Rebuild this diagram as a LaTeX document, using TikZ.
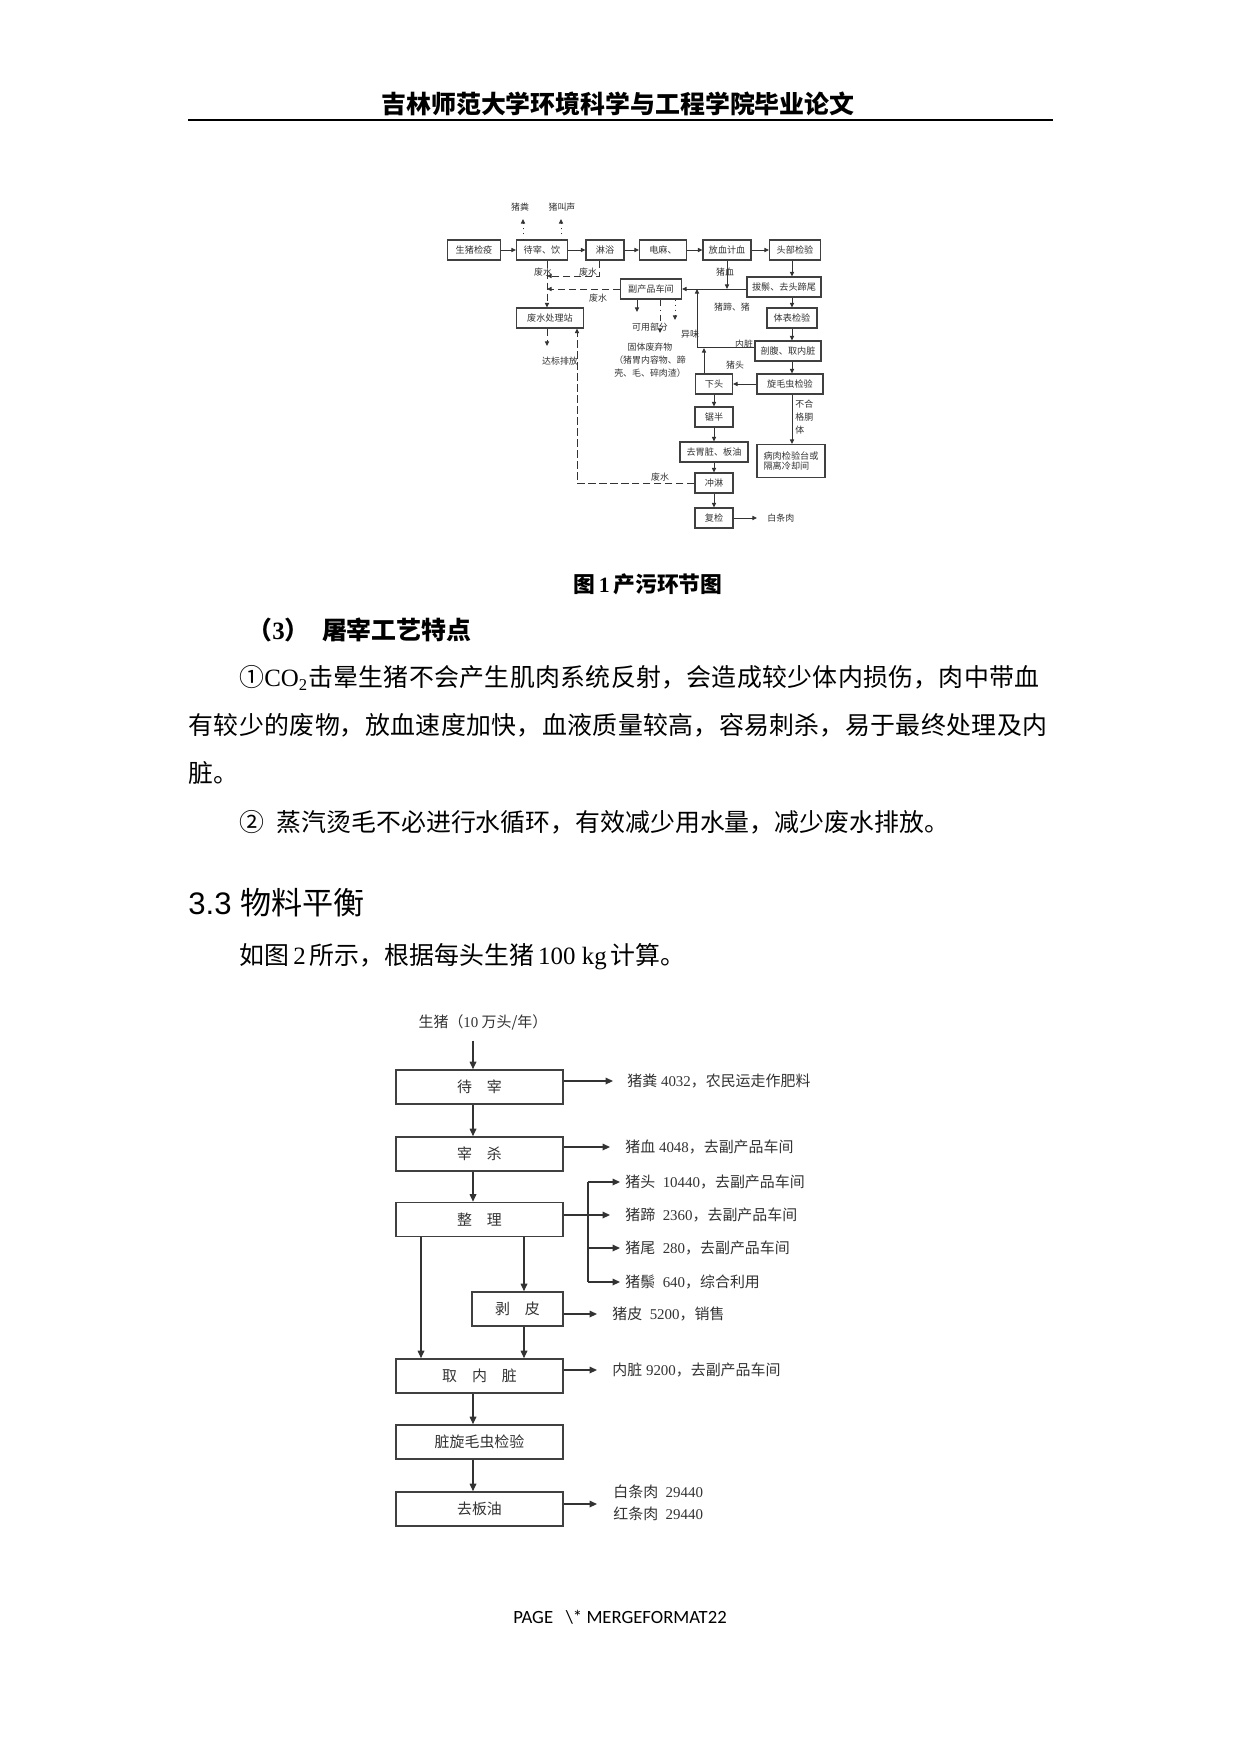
\documentclass[tikz,border=0pt]{standalone}
\usepackage{fontspec}
\setmainfont{Liberation Serif}
\newfontfamily\cjk{Noto Sans CJK SC}
\newfontfamily\lsans{Liberation Sans}
\newfontfamily\carl{Carlito}
\usetikzlibrary{arrows.meta}
\XeTeXlinebreaklocale "zh"
\XeTeXlinebreakskip=0pt plus 1pt
\newlength\pix
\setlength\pix{0.016935cm}
\newcommand\lat[1]{{\rmfamily #1}}
\newcommand\jline[2]{\parbox{#1\pix}{\parfillskip=0pt\relax #2}}
\tikzset{
  sbox/.style={draw=black!75, line width=0.5pt, inner sep=0pt, minimum height=20*\pix,
    font=\cjk\fontsize{4.4pt}{5pt}\selectfont, text=black!80},
  slbl/.style={inner sep=0pt, font=\cjk\fontsize{4.3pt}{6.3pt}\selectfont, text=black!80},
  sarr/.style={-{Triangle[length=2.2pt,width=2pt]}, line width=0.45pt, draw=black!80},
  wdash/.style={dash pattern=on 3.5pt off 1.8pt},
  bbox/.style={draw=black!75, line width=0.8pt, inner sep=0pt, minimum height=34*\pix,
    font=\cjk\fontsize{7.2pt}{8.5pt}\selectfont, text=black!80},
  blbl/.style={anchor=west, inner sep=0pt, font=\cjk\fontsize{7.2pt}{10.5pt}\selectfont, text=black!80},
  barr/.style={-{Triangle[length=3.6pt,width=3.2pt]}, line width=0.6pt, draw=black!80},
  body/.style={anchor=west, inner sep=0pt, font=\cjk\fontsize{12pt}{14pt}\selectfont},
}
\begin{document}
\begin{tikzpicture}[x=0.016935cm, y=-0.016935cm]
        \fill[white] (0,0) rectangle (1240,1754);
        \useasboundingbox (0,0) rectangle (1240,1754);
        \node[body, anchor=center] (hd) at (618,104) {\bfseries 吉林师范大学环境科学与工程学院毕业论文};
        \draw[line width=1pt] (188,120) -- (1053,120);
        % figure 1
        \node[sbox, minimum width=53*\pix] (jy) at (474,250) {生猪检疫};
        \node[sbox, minimum width=51*\pix] (dz) at (542,250) {待宰、饮};
        \node[sbox, minimum width=38*\pix] (ly) at (605,250) {淋浴};
        \node[sbox, minimum width=47*\pix] (dm) at (663,250) {电麻、};
        \node[sbox, minimum width=48*\pix] (fx) at (727,250) {放血计血};
        \node[sbox, minimum width=51*\pix] (tb) at (795,250) {头部检验};
        \node[sbox, minimum width=74*\pix] (bz) at (784,287) {拔鬃、去头蹄尾};
        \node[sbox, minimum width=50*\pix] (tj) at (792,318) {体表检验};
        \node[sbox, minimum width=66*\pix] (pf) at (788,351) {剖腹、取内脏};
        \node[sbox, minimum width=66*\pix] (xm) at (790,384) {旋毛虫检验};
        \node[sbox, minimum width=68*\pix, minimum height=33*\pix, align=left] (br) at (791,461) {病肉检验台或\\隔离冷却间};
        \node[sbox, minimum width=61*\pix] (fc) at (651,289) {副产品车间};
        \node[sbox, minimum width=67*\pix] (fs) at (550,318) {废水处理站};
        \node[sbox, minimum width=37*\pix] (xt) at (714,384) {下头};
        \node[sbox, minimum width=38*\pix] (jb) at (714,417) {锯半};
        \node[sbox, minimum width=68*\pix] (qw) at (714,452) {去胃脏、板油};
        \node[sbox, minimum width=38*\pix] (cl) at (714,483) {冲淋};
        \node[sbox, minimum width=38*\pix] (fj) at (714,518) {复检};
        \coordinate (kx) at (792,0);
        \coordinate (wx) at (547,0);
        \coordinate (lyd) at (599,276);
        \coordinate (db) at (547,346);
        \coordinate (rt) at (577,483);
        \coordinate (fb) at (523,219);
        \coordinate (jsh) at (561,219);
        \coordinate (k1) at (637,312);
        \coordinate (k2) at (660,333);
        \coordinate (k3) at (675,320);
        \coordinate (nz) at (697,347);
        \coordinate (ts) at (704,348);
        \coordinate (btr) at (757,518);
        \draw[sarr] (jy.east) -- (dz.west);
        \draw[sarr] (dz.east) -- (ly.west);
        \draw[sarr] (ly.east) -- (dm.west);
        \draw[sarr] (dm.east) -- (fx.west);
        \draw[sarr] (fx.east) -- (tb.west);
        \draw[sarr] (tb.south -| kx) -- (bz.north -| kx);
        \draw[sarr] (bz.south -| kx) -- (tj.north -| kx);
        \draw[sarr] (tj.south -| kx) -- (pf.north -| kx);
        \draw[sarr] (pf.south -| kx) -- (xm.north -| kx);
        \draw[sarr] (xm.south -| kx) -- (br.north -| kx);
        \draw[sarr] (xm.west) -- (xt.east);
        \draw[sarr] (bz.west |- fc.east) -- (fc.east);
        \draw[sarr] (fx.south) -- (fx.south |- fc.east);
        \draw[line width=0.45pt, black!80] (pf.west |- nz) -- (nz);
        \draw[sarr] (nz) -- (nz |- fc.east);
        \draw[sarr] (xt.north -| ts) -- (ts);
        \draw[sarr] (xt.south) -- (jb.north);
        \draw[sarr] (jb.south) -- (qw.north);
        \draw[sarr] (qw.south) -- (cl.north);
        \draw[sarr] (cl.south) -- (fj.north);
        \draw[sarr] (fj.east) -- (btr);
        \draw[sarr, wdash] (dz.south -| wx) -- (fs.north -| wx);
        \draw[sarr, wdash] (ly.south -| lyd) -- (lyd) -- (wx |- lyd);
        \draw[sarr, wdash] (fc.west) -- (wx |- fc.west);
        \draw[sarr, wdash] (fs.south -| db) -- (db);
        \draw[sarr, wdash] (cl.west) -- (rt) -- (rt |- fs.south);
        \draw[sarr, dotted] (dz.north -| fb) -- (fb);
        \draw[sarr, dotted] (dz.north -| jsh) -- (jsh);
        \draw[sarr] (fc.south -| k1) -- (k1);
        \draw[sarr, dash dot] (fc.south -| k2) -- (k2);
        \draw[sarr, dotted] (fc.south -| k3) -- (k3);
        \node[slbl] (lfb) at (520,207) {猪粪};
        \node[slbl] (ljs) at (562,207) {猪叫声};
        \node[slbl] (lw1) at (543,272) {废水};
        \node[slbl] (lw2) at (588,272) {废水};
        \node[slbl] (lw3) at (598,298) {废水};
        \node[slbl] (ldb) at (560,361) {达标排放};
        \node[slbl] (lky) at (650,327) {可用部分};
        \node[slbl, align=center] (lgt) at (650,360) {固体废弃物\\（猪胃内容物、蹄\\壳、毛、碎肉渣）};
        \node[slbl] (lzx) at (725,272) {猪血};
        \node[slbl] (lzt) at (732,307) {猪蹄、猪};
        \node[slbl] (lyw) at (690,334) {异味};
        \node[slbl] (lnz) at (744,344) {内脏};
        \node[slbl] (lzh) at (735,365) {猪头};
        \node[slbl, align=left, anchor=west] (lbh) at (795,417) {不合\\格胴\\体};
        \node[slbl] (lw4) at (660,477) {废水};
        \node[slbl, anchor=west] (lbt) at (767,518) {白条肉};
        \node[anchor=center, inner sep=0pt, font=\cjk\fontsize{10.5pt}{12pt}\selectfont] (cap) at (648,584) {\bfseries 图\,\lat{\bfseries 1}\,产污环节图};
        % text
        \node[body] (h3) at (247,630) {\bfseries （\lat{\bfseries 3}）\hspace{6pt}屠宰工艺特点};
        \node[body] (p1) at (239,678) {\jline{800}{①\lat{CO\textsubscript{2}}击晕生猪不会产生肌肉系统反射，会造成较少体内损伤，肉中带血}};
        \node[body] (p2) at (188,725) {\jline{859}{有较少的废物，放血速度加快，血液质量较高，容易刺杀，易于最终处理及内}};
        \node[body] (p3) at (188,773) {脏。};
        \node[body] (p4) at (239,822) {②\hspace{6pt}蒸汽烫毛不必进行水循环，有效减少用水量，减少废水排放。};
        \node[body, font=\fontsize{15pt}{18pt}\selectfont] (sec) at (188,903) {\lsans 3.3 \cjk 物料平衡};
        \node[body] (p5) at (239,957) {如图\lat{\,2\,}所示，根据每头生猪\lat{\,100 kg\,}计算。};
        % figure 2
        \coordinate (cx) at (473,0);
        \coordinate (px) at (524,0);
        \coordinate (lx) at (421,0);
        \node[blbl, anchor=center] (sz) at (483,1022) {生猪（\lat{10} 万头/年）};
        \node[bbox, minimum width=167*\pix] (dz2) at (479.5,1087) {待　宰};
        \node[bbox, minimum width=167*\pix] (zs) at (479.5,1154) {宰　杀};
        \node[bbox, minimum width=167*\pix] (zl) at (479.5,1219.5) {整　理};
        \node[bbox, minimum width=91*\pix] (bp) at (517.5,1309) {剥　皮};
        \node[bbox, minimum width=167*\pix] (qn) at (479.5,1376) {取　内　脏};
        \node[bbox, minimum width=167*\pix] (xj) at (479.5,1442) {脏旋毛虫检验};
        \node[bbox, minimum width=167*\pix] (qb) at (479.5,1509) {去板油};
        \draw[barr, shorten <=5pt] (sz.south -| cx) -- (dz2.north -| cx);
        \draw[barr] (dz2.south -| cx) -- (zs.north -| cx);
        \draw[barr] (zs.south -| cx) -- (zl.north -| cx);
        \draw[barr] (zl.south -| px) -- (bp.north -| px);
        \draw[barr] (bp.south -| px) -- (qn.north -| px);
        \draw[barr] (zl.south -| lx) -- (qn.north -| lx);
        \draw[barr] (qn.south -| cx) -- (xj.north -| cx);
        \draw[barr] (xj.south -| cx) -- (qb.north -| cx);
        \coordinate (o1) at (613,1081);
        \coordinate (o2) at (610,1147);
        \coordinate (o3) at (610,1215);
        \coordinate (bx) at (588,0);
        \coordinate (h1) at (620,1182);
        \coordinate (h3) at (620,1248);
        \coordinate (h4) at (620,1282);
        \coordinate (o5) at (597,1314);
        \coordinate (o6) at (597,1370);
        \coordinate (o7) at (597,1504);
        \draw[barr] (dz2.east |- o1) -- (o1);
        \draw[barr] (zs.east |- o2) -- (o2);
        \draw[barr] (zl.east |- o3) -- (o3);
        \draw[line width=0.6pt, black!80] (bx |- h1) -- (bx |- h4);
        \draw[barr] (bx |- h1) -- (h1);
        \draw[barr] (bx |- h3) -- (h3);
        \draw[barr] (bx |- h4) -- (h4);
        \draw[barr] (bp.east |- o5) -- (o5);
        \draw[barr] (qn.east |- o6) -- (o6);
        \draw[barr] (qb.east |- o7) -- (o7);
        \node[blbl] (t1) at (627,1081) {猪粪\lat{ 4032}，农民运走作肥料};
        \node[blbl] (t2) at (625,1147) {猪血\lat{ 4048}，去副产品车间};
        \node[blbl] (t3) at (625,1182) {猪头\lat{ \ 10440}，去副产品车间};
        \node[blbl] (t4) at (625,1215) {猪蹄\lat{ \ 2360}，去副产品车间};
        \node[blbl] (t5) at (625,1248) {猪尾\lat{ \ 280}，去副产品车间};
        \node[blbl] (t6) at (625,1282) {猪鬃\lat{ \ 640}，综合利用};
        \node[blbl] (t7) at (612,1314) {猪皮\lat{ \ 5200}，销售};
        \node[blbl] (t8) at (612,1370) {内脏\lat{ 9200}，去副产品车间};
        \node[blbl, align=left] (t9) at (613,1503) {白条肉\lat{ \ 29440}\\红条肉\lat{ \ 29440}};
        \node[inner sep=0pt, font=\carl\fontsize{9pt}{11pt}\selectfont] (ft) at (620,1617) {PAGE\ \ \ \textbackslash* MERGEFORMAT22};
\end{tikzpicture}
\end{document}
